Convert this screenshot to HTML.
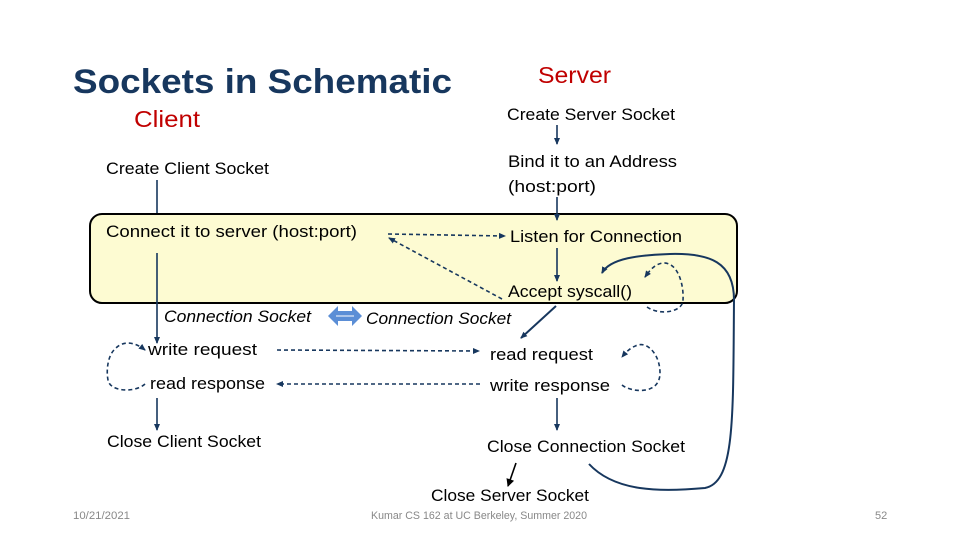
<!DOCTYPE html>
<html><head><meta charset="utf-8"><style>
html,body{margin:0;padding:0;background:#fff;}
svg{display:block;}
text{font-family:"Liberation Sans",sans-serif;}
</style></head><body>
<svg width="960" height="540" viewBox="0 0 960 540" xmlns="http://www.w3.org/2000/svg">
<defs>
<marker id="a" markerWidth="8" markerHeight="8" refX="6" refY="4" orient="auto" markerUnits="userSpaceOnUse">
<path d="M0,1 L7,4 L0,7 z" fill="#17375e"/></marker>
<marker id="k" markerWidth="10" markerHeight="10" refX="7" refY="5" orient="auto" markerUnits="userSpaceOnUse">
<path d="M0,1 L8,5 L0,9 z" fill="#000"/></marker>
</defs>
<rect x="90" y="214" width="647" height="89" rx="12" fill="#fdfbd2" stroke="#000" stroke-width="2"/>
<text x="73" y="93" font-size="34" font-weight="bold" fill="#17375e" textLength="379" lengthAdjust="spacingAndGlyphs">Sockets in Schematic</text>
<text x="538" y="83" font-size="23" fill="#c00000" textLength="73" lengthAdjust="spacingAndGlyphs">Server</text>
<text x="134" y="127" font-size="23" fill="#c00000" textLength="66" lengthAdjust="spacingAndGlyphs">Client</text>
<g font-size="17" fill="#000" lengthAdjust="spacingAndGlyphs">
<text x="507" y="120" textLength="168" lengthAdjust="spacingAndGlyphs">Create Server Socket</text>
<text x="508" y="167" textLength="169" lengthAdjust="spacingAndGlyphs">Bind it to an Address</text>
<text x="508" y="192" textLength="88" lengthAdjust="spacingAndGlyphs">(host:port)</text>
<text x="106" y="174" textLength="163" lengthAdjust="spacingAndGlyphs">Create Client Socket</text>
<text x="106" y="237" textLength="251" lengthAdjust="spacingAndGlyphs">Connect it to server (host:port)</text>
<text x="510" y="242" textLength="172" lengthAdjust="spacingAndGlyphs">Listen for Connection</text>
<text x="508" y="297" textLength="124" lengthAdjust="spacingAndGlyphs">Accept syscall()</text>
<text x="164" y="322" font-style="italic" textLength="147" lengthAdjust="spacingAndGlyphs">Connection Socket</text>
<text x="366" y="324" font-style="italic" textLength="145" lengthAdjust="spacingAndGlyphs">Connection Socket</text>
<text x="148" y="355" textLength="109" lengthAdjust="spacingAndGlyphs">write request</text>
<text x="150" y="389" textLength="115" lengthAdjust="spacingAndGlyphs">read response</text>
<text x="490" y="360" textLength="103" lengthAdjust="spacingAndGlyphs">read request</text>
<text x="490" y="391" textLength="120" lengthAdjust="spacingAndGlyphs">write response</text>
<text x="107" y="447" textLength="154" lengthAdjust="spacingAndGlyphs">Close Client Socket</text>
<text x="487" y="452" textLength="198" lengthAdjust="spacingAndGlyphs">Close Connection Socket</text>
<text x="431" y="501" textLength="158" lengthAdjust="spacingAndGlyphs">Close Server Socket</text>
</g>
<g font-size="11" fill="#888">
<text x="73" y="519" textLength="57" lengthAdjust="spacingAndGlyphs">10/21/2021</text>
<text x="371" y="519" textLength="216" lengthAdjust="spacingAndGlyphs">Kumar CS 162 at UC Berkeley, Summer 2020</text>
<text x="875" y="519">52</text>
</g>
<g stroke="#17375e" stroke-width="1.6" fill="none">
<line x1="157" y1="180" x2="157" y2="213"/>
<line x1="157" y1="253" x2="157" y2="343" marker-end="url(#a)"/>
<line x1="157" y1="398" x2="157" y2="430" marker-end="url(#a)"/>
<line x1="557" y1="125" x2="557" y2="144" marker-end="url(#a)"/>
<line x1="557" y1="197" x2="557" y2="220" marker-end="url(#a)"/>
<line x1="557" y1="248" x2="557" y2="281" marker-end="url(#a)"/>
<line x1="556" y1="306" x2="521" y2="338" marker-end="url(#a)" stroke-width="2"/>
<line x1="557" y1="398" x2="557" y2="430" marker-end="url(#a)"/>
<path d="M589,464 C615,492 660,492 705,488 C735,482 733,420 734,300 C734,262 710,253 670,254 C640,255 610,258 602,273" stroke-width="2" marker-end="url(#a)"/>
<g stroke-dasharray="4,3">
<line x1="388" y1="234" x2="505" y2="236" marker-end="url(#a)"/>
<line x1="502" y1="299" x2="389" y2="238" marker-end="url(#a)"/>
<line x1="277" y1="350" x2="479" y2="351" marker-end="url(#a)"/>
<line x1="480" y1="384" x2="277" y2="384" marker-end="url(#a)"/>
<path d="M647,307 C660,316 683,312 683,300 C684,285 678,262 663,263 C655,264 650,270 645,277" marker-end="url(#a)"/>
<path d="M622,385 C630,392 660,396 660,373 C660,355 648,342 638,345 C631,347 626,352 622,357" marker-end="url(#a)"/>
<path d="M145,384 C135,393 110,392 108,380 C106,370 108,355 115,349 C123,340 135,342 145,350" marker-end="url(#a)"/>
</g>
</g>
<line x1="516" y1="463" x2="508" y2="486" stroke="#000" stroke-width="1.6" marker-end="url(#k)"/>
<g fill="#5b8ed6">
<path d="M328,316 L338,306 L338,311 L352,311 L352,306 L362,316 L352,326 L352,321 L338,321 L338,326 z"/>
</g>
<line x1="336" y1="316" x2="354" y2="316" stroke="#fff" stroke-width="1"/>
</svg>
</body></html>
